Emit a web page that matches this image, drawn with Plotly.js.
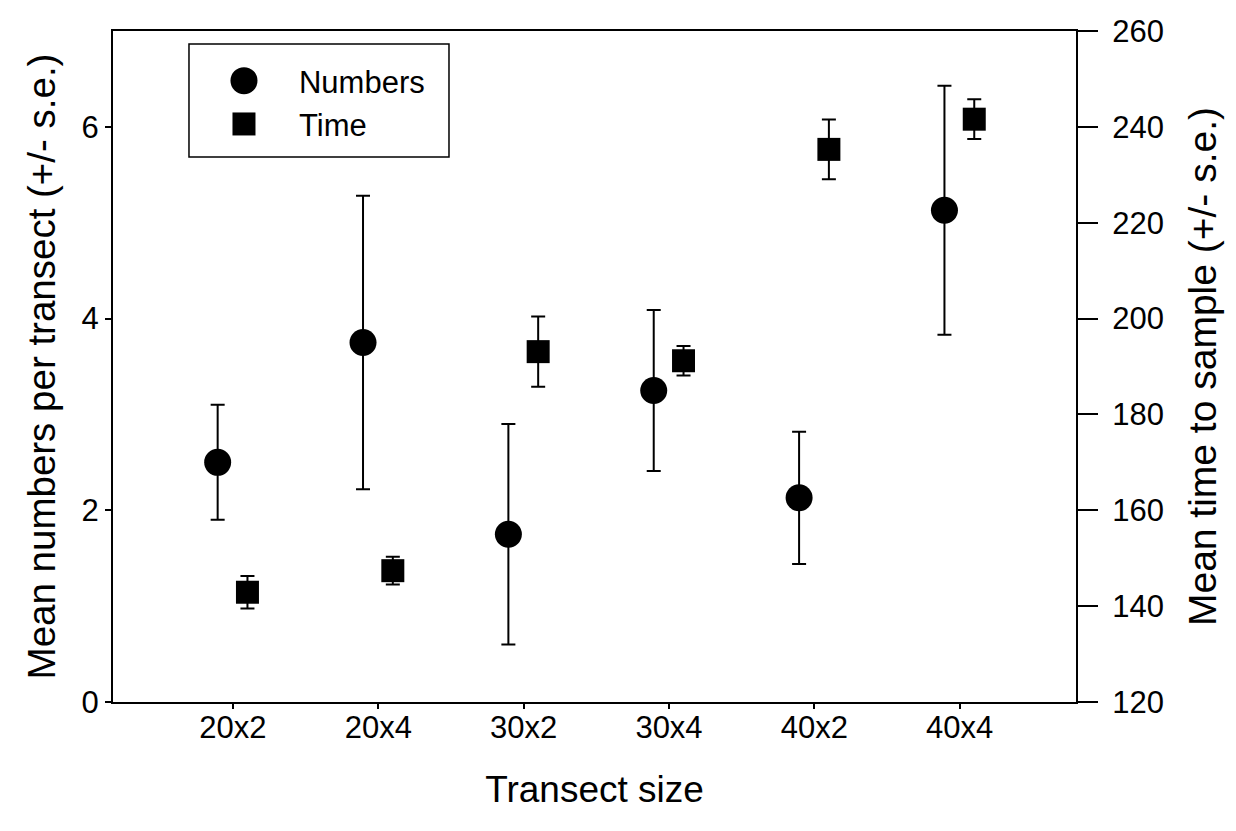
<!DOCTYPE html>
<html>
<head>
<meta charset="utf-8">
<script src="https://cdn.plot.ly/plotly-3.0.1.min.js"></script>
<style>
  html, body { margin: 0; padding: 0; background: #ffffff; }
  #chart { width: 1236px; height: 831px; }
</style>
</head>
<body>
<div id="chart"></div>
<script>
// ---- data ----
var categories = ['20x2', '20x4', '30x2', '30x4', '40x2', '40x4'];
var numbersMean = [2.50, 3.75, 1.75, 3.25, 2.13, 5.13];
var numbersSE   = [0.60, 1.53, 1.15, 0.84, 0.69, 1.30];
var timeMean    = [142.9, 147.4, 193.1, 191.2, 235.3, 241.6];
var timeSE      = [3.4, 2.9, 7.35, 3.1, 6.25, 4.15];
var leftTicks   = [0, 2, 4, 6];
var rightTicks  = [120, 140, 160, 180, 200, 220, 240, 260];

// category positions (1..n) with small dodge for the two series
var catPos = categories.map(function (c, i) { return i + 1; });
var dodgeNumbers = -0.105, dodgeTime = 0.10;

var FONT = 'Liberation Sans, Arial, Helvetica, sans-serif';

var traces = [
  {
    name: 'Numbers',
    type: 'scatter', mode: 'markers',
    x: catPos.map(function (p) { return p + dodgeNumbers; }),
    y: numbersMean,
    marker: { symbol: 'circle', size: 27, color: '#000000' },
    error_y: { type: 'data', array: numbersSE, visible: true, color: '#000000', thickness: 2, width: 7 },
    xaxis: 'x', yaxis: 'y'
  },
  {
    name: 'Time',
    type: 'scatter', mode: 'markers',
    x: catPos.map(function (p) { return p + dodgeTime; }),
    y: timeMean,
    marker: { symbol: 'square', size: 23, color: '#000000' },
    error_y: { type: 'data', array: timeSE, visible: true, color: '#000000', thickness: 2, width: 7 },
    xaxis: 'x', yaxis: 'y2'
  }
];

var layout = {
  width: 1236, height: 831,
  paper_bgcolor: '#ffffff', plot_bgcolor: '#ffffff',
  margin: { l: 113, r: 160, t: 31, b: 129, pad: 0 },
  font: { family: FONT, color: '#000000', size: 31 },
  showlegend: true,
  legend: {
    x: 0.0789, y: 0.9657, xanchor: 'left', yanchor: 'top',
    borderwidth: 0, bgcolor: 'rgba(0,0,0,0)',
    font: { family: FONT, size: 31, color: '#000000' },
    itemwidth: 100
  },
  shapes: [
    { type: 'rect', xref: 'paper', yref: 'paper',
      x0: 0.0789, x1: 0.3489, y0: 0.8122, y1: 0.9806,
      line: { color: '#000000', width: 1.5 }, fillcolor: 'rgba(0,0,0,0)', layer: 'above' }
  ],
  xaxis: {
    range: [0.175, 6.8],
    tickmode: 'array', tickvals: catPos, ticktext: categories,
    ticks: 'outside', ticklen: 5, tickwidth: 2, tickcolor: '#000000',
    ticklabelstandoff: -8,
    showline: true, linecolor: '#000000', linewidth: 2, mirror: true,
    showgrid: false, zeroline: false,
    tickfont: { family: FONT, size: 31, color: '#000000' },
    title: { text: 'Transect size', font: { family: FONT, size: 37, color: '#000000' }, standoff: 32 }
  },
  yaxis: {
    range: [0, 7],
    tickmode: 'array', tickvals: leftTicks,
    ticks: 'outside', ticklen: 6, tickwidth: 2, tickcolor: '#000000',
    showline: true, linecolor: '#000000', linewidth: 2,
    showgrid: false, zeroline: false,
    tickfont: { family: FONT, size: 31, color: '#000000' },
    title: { text: 'Mean numbers per transect (+/- s.e.)', font: { family: FONT, size: 38.5, color: '#000000' }, standoff: 14 }
  },
  yaxis2: {
    overlaying: 'y', side: 'right',
    range: [120, 260],
    tickmode: 'array', tickvals: rightTicks,
    ticks: 'outside', ticklen: 20, tickwidth: 2, tickcolor: '#000000',
    ticklabelstandoff: 8,
    showline: true, linecolor: '#000000', linewidth: 2,
    showgrid: false, zeroline: false,
    tickfont: { family: FONT, size: 31, color: '#000000' },
    title: { text: 'Mean time to sample (+/- s.e.)', font: { family: FONT, size: 39, color: '#000000' }, standoff: 26 }
  }
};

Plotly.newPlot('chart', traces, layout, { displayModeBar: false, staticPlot: true }).then(function (gd) {
  // legend symbols in Plotly are capped at 16px; enlarge them to the plotted marker size
  var pts = gd.querySelectorAll('.legend .legendpoints path.scatterpts');
  var scales = [27 / 16, 23 / 16];
  pts.forEach(function (p, i) {
    var t = p.getAttribute('transform') || '';
    p.setAttribute('transform', t + ' scale(' + (scales[i] || 1.6) + ')');
  });
});
</script>
</body>
</html>
